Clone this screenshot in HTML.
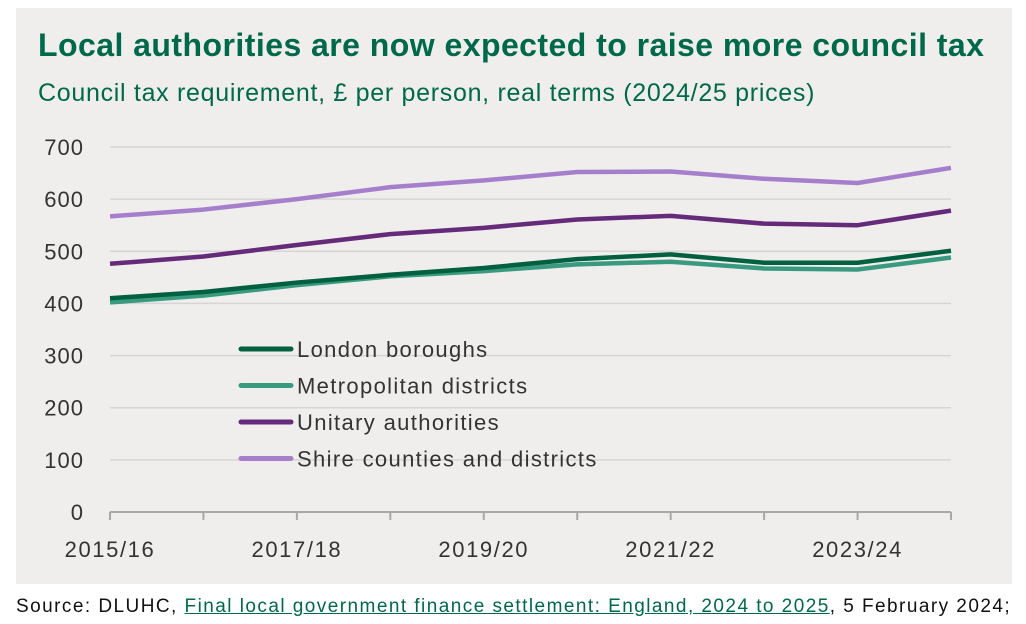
<!DOCTYPE html>
<html><head><meta charset="utf-8"><style>
body{margin:0;width:1026px;height:624px;background:#fff;font-family:"Liberation Sans",sans-serif;overflow:hidden}
#panel{position:absolute;left:16px;top:8px;width:996px;height:576px;background:#efeeed}
h1{position:absolute;left:38px;top:27px;margin:0;font-size:32px;line-height:36px;font-weight:bold;color:#00694a;white-space:nowrap;letter-spacing:0.45px}
h2{position:absolute;left:38px;top:78px;margin:0;font-size:25px;line-height:30px;font-weight:normal;color:#00694a;white-space:nowrap;letter-spacing:0.7px}
#src{position:absolute;left:16px;top:596px;font-size:19px;color:#111;white-space:nowrap;letter-spacing:1.45px}
#src a{color:#00694a;text-decoration:underline}
svg{position:absolute;left:0;top:0}
</style></head><body>
<div id="panel"></div>
<h1>Local authorities are now expected to raise more council tax</h1>
<h2>Council tax requirement, £ per person, real terms (2024/25 prices)</h2>
<svg id="c" width="1026" height="624"></svg>
<div id="src">Source: DLUHC, <a>Final local government finance settlement: England, 2024 to 2025</a>, 5 February 2024;</div>
<script>
const categories=["2015/16","2016/17","2017/18","2018/19","2019/20","2020/21","2021/22","2022/23","2023/24","2024/25"];
const xLabels=["2015/16","2017/18","2019/20","2021/22","2023/24"];
const yTicks=[0,100,200,300,400,500,600,700];
const london=[410,422,440,455,468,485,494,478,478,501];
const metro=[402,415,435,452,462,475,480,467,465,488];
const unitary=[476,490,512,533,545,561,568,553,550,578];
const shire=[567,580,600,623,636,652,653,639,631,660];
const seriesNames=["London boroughs","Metropolitan districts","Unitary authorities","Shire counties and districts"];
const NS="http://www.w3.org/2000/svg",svg=document.getElementById('c');
const x0=110,x1=951,y0=512,y1=147;
const xs=i=>x0+(x1-x0)*i/(categories.length-1);
const ys=v=>y0-(y0-y1)*v/700;
function mk(t,a){const e=document.createElementNS(NS,t);for(const k in a)e.setAttribute(k,a[k]);svg.appendChild(e);return e;}
yTicks.forEach(v=>{
 if(v>0){const g=mk('line',{x1:x0,x2:x1,y1:ys(v),y2:ys(v),stroke:'#d8d4d4','stroke-width':1.5});
 
 }
 const t=mk('text',{x:84,y:ys(v)+8,'text-anchor':'end','font-size':22,fill:'#333','letter-spacing':1});t.textContent=v;
 
 
});
const ax=mk('line',{x1:x0,x2:x1,y1:y0,y2:y0,stroke:'#a8a8a8','stroke-width':2});


categories.forEach((c,i)=>{
 const tk=mk('line',{x1:xs(i),x2:xs(i),y1:y0,y2:y0+8,stroke:'#a8a8a8','stroke-width':2});
 
 
 if(xLabels.includes(c)){const t=mk('text',{x:xs(i),y:557,'text-anchor':'middle','font-size':22,fill:'#333','letter-spacing':1.6});t.textContent=c;
 
 }
});
const series=[[metro,'#3a9a80'],[london,'#00603f'],[unitary,'#652a7a'],[shire,'#a67fcc']];
const nm=['metro','london','unitary','shire'];
series.forEach(([d,col],k)=>{
 const p=mk('polyline',{points:d.map((v,i)=>xs(i)+','+ys(v)).join(' '),fill:'none',stroke:col,'stroke-width':4.5,'stroke-linejoin':'round'});
 
 
});
const lc=['#00603f','#3a9a80','#652a7a','#a67fcc'];
seriesNames.forEach((n,i)=>{
 const y=349+i*36.5;
 const l=mk('line',{x1:241,x2:291,y1:y,y2:y,stroke:lc[i],'stroke-width':5,'stroke-linecap':'round'});
 
 
 const t=mk('text',{x:297,y:y+8,'font-size':22,fill:'#333','letter-spacing':1.35});t.textContent=n;
 
 
});
</script>
</body></html>
